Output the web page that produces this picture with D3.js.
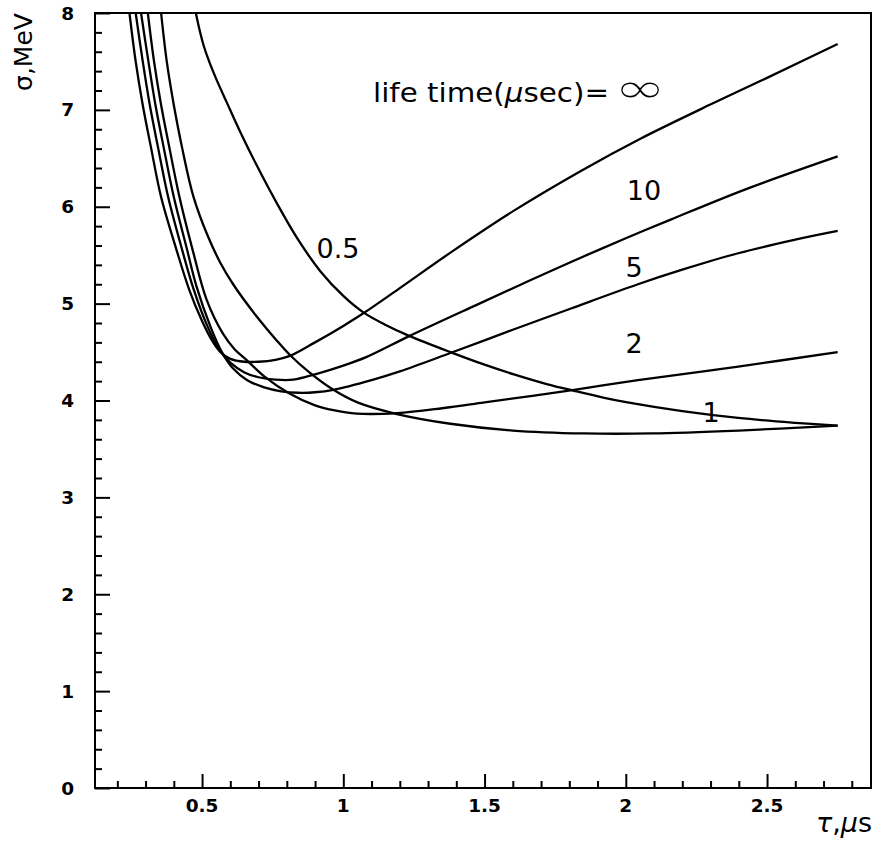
<!DOCTYPE html>
<html>
<head>
<meta charset="utf-8">
<script src="https://cdn.jsdelivr.net/npm/d3@7"></script>
<style>
  html, body { margin: 0; padding: 0; background: #fff; }
  svg { display: block; }
  text { fill: #000; }
</style>
</head>
<body>
<svg id="chart" width="884" height="852"></svg>
<script>
// Energy resolution sigma (MeV) versus shaping time tau (us)
// for several electron life times (us).

const lifeTimes = ["∞", "10", "5", "2", "1", "0.5"];

const tauInf   = [0.243, 0.265, 0.29, 0.32, 0.355, 0.41, 0.455, 0.50, 0.535, 0.565, 0.60, 0.65, 0.70, 0.76, 0.811, 0.90, 1.0, 1.071, 1.2, 1.391, 1.604, 1.841, 2.05, 2.303, 2.5, 2.75];
const sigmaInf = [8.0, 7.5, 7.05, 6.6, 6.1, 5.55, 5.14, 4.82, 4.62, 4.50, 4.43, 4.40, 4.40, 4.42, 4.46, 4.60, 4.77, 4.90, 5.16, 5.55, 5.96, 6.37, 6.70, 7.06, 7.33, 7.68];

const tau10    = [0.265, 0.29, 0.315, 0.345, 0.38, 0.43, 0.47, 0.52, 0.56, 0.60, 0.65, 0.70, 0.76, 0.823, 0.90, 1.0, 1.083, 1.237, 1.474, 1.65, 1.806, 2.0, 2.161, 2.433, 2.75];
const sigma10  = [8.0, 7.5, 7.05, 6.6, 6.1, 5.55, 5.15, 4.76, 4.53, 4.39, 4.29, 4.24, 4.215, 4.215, 4.27, 4.36, 4.45, 4.67, 4.99, 5.225, 5.43, 5.675, 5.87, 6.19, 6.52];

const tau5     = [0.284, 0.31, 0.335, 0.365, 0.40, 0.445, 0.48, 0.53, 0.57, 0.61, 0.66, 0.72, 0.78, 0.84, 0.90, 0.965, 1.1, 1.2, 1.379, 1.60, 1.806, 2.043, 2.2, 2.398, 2.6, 2.75];
const sigma5   = [8.0, 7.5, 7.05, 6.6, 6.1, 5.58, 5.18, 4.76, 4.50, 4.33, 4.21, 4.135, 4.095, 4.08, 4.085, 4.11, 4.21, 4.30, 4.49, 4.73, 4.95, 5.20, 5.35, 5.52, 5.66, 5.75];

const tau2     = [0.308, 0.33, 0.355, 0.385, 0.42, 0.467, 0.515, 0.574, 0.615, 0.657, 0.72, 0.811, 0.90, 0.965, 1.048, 1.19, 1.35, 1.50, 1.817, 2.043, 2.398, 2.75];
const sigma2   = [8.0, 7.5, 7.05, 6.6, 6.1, 5.55, 5.05, 4.69, 4.53, 4.42, 4.25, 4.07, 3.95, 3.90, 3.865, 3.87, 3.92, 3.98, 4.11, 4.21, 4.35, 4.50];

const tau1     = [0.355, 0.375, 0.40, 0.43, 0.47, 0.52, 0.565, 0.61, 0.69, 0.764, 0.811, 0.88, 0.965, 1.05, 1.19, 1.379, 1.60, 1.852, 2.09, 2.40, 2.75];
const sigma1   = [8.0, 7.5, 7.05, 6.6, 6.1, 5.7, 5.42, 5.2, 4.88, 4.62, 4.47, 4.29, 4.11, 3.98, 3.86, 3.76, 3.69, 3.66, 3.66, 3.69, 3.74];

const tau05    = [0.478, 0.49, 0.505, 0.525, 0.55, 0.587, 0.634, 0.693, 0.764, 0.84, 0.92, 1.0, 1.071, 1.15, 1.231, 1.379, 1.50, 1.604, 1.72, 1.817, 1.92, 2.006, 2.2, 2.398, 2.6, 2.75];
const sigma05  = [8.0, 7.84, 7.67, 7.5, 7.32, 7.08, 6.78, 6.43, 6.04, 5.66, 5.33, 5.08, 4.91, 4.78, 4.67, 4.50, 4.37, 4.27, 4.17, 4.10, 4.03, 3.98, 3.89, 3.82, 3.77, 3.74];

const xMajorTicks = [0.5, 1, 1.5, 2, 2.5];
const xTickLabels = ["0.5", "1", "1.5", "2", "2.5"];
const yMajorTicks = [0, 1, 2, 3, 4, 5, 6, 7, 8];
const yTickLabels = ["0", "1", "2", "3", "4", "5", "6", "7", "8"];

const seriesTau   = [tauInf, tau10, tau5, tau2, tau1, tau05];
const seriesSigma = [sigmaInf, sigma10, sigma5, sigma2, sigma1, sigma05];

const svg = d3.select("#chart");
const frame = { left: 95, right: 871, top: 13, bottom: 788 };

const x = d3.scaleLinear().domain([0.121, 2.868]).range([frame.left, frame.right]);
const y = d3.scaleLinear().domain([0, 8]).range([frame.bottom, frame.top]);

const FONT = "'DejaVu Sans', Verdana, sans-serif";

// clip region for the curves
svg.append("defs").append("clipPath").attr("id", "plotClip")
  .append("rect")
  .attr("x", frame.left).attr("y", frame.top)
  .attr("width", frame.right - frame.left).attr("height", frame.bottom - frame.top);

// curves
const line = d3.line()
  .x(d => x(d[0]))
  .y(d => y(d[1]))
  .curve(d3.curveCatmullRom.alpha(0.5));

const curves = svg.append("g").attr("clip-path", "url(#plotClip)");
seriesTau.forEach((taus, i) => {
  const pts = taus.map((t, k) => [t, seriesSigma[i][k]]);
  curves.append("path")
    .datum(pts)
    .attr("d", line)
    .attr("fill", "none")
    .attr("stroke", "#000")
    .attr("stroke-width", 2.3)
    .attr("stroke-linejoin", "round");
});

// x axis (ticks pointing into the frame)
const xMinor = d3.range(2, 29).map(v => v / 10).filter(v => !xMajorTicks.some(m => Math.abs(m - v) < 1e-6));
const xAxis = d3.axisTop(x).tickValues(xMajorTicks).tickSize(14).tickFormat("");
const xAxisMinor = d3.axisTop(x).tickValues(xMinor).tickSize(7).tickFormat("");
[xAxis, xAxisMinor].forEach(ax => {
  const g = svg.append("g").attr("transform", `translate(0,${frame.bottom})`).call(ax);
  g.select(".domain").remove();
  g.selectAll("line").attr("stroke", "#000").attr("stroke-width", 2);
});
svg.append("g").selectAll("text")
  .data(xMajorTicks)
  .join("text")
  .attr("x", d => x(d))
  .attr("y", 812)
  .attr("text-anchor", "middle")
  .attr("font-family", FONT)
  .attr("font-weight", "bold")
  .attr("font-size", 18.5)
  .text((d, i) => xTickLabels[i]);

// y axis (ticks pointing into the frame)
const yMinor = d3.range(0, 41).map(v => v / 5).filter(v => !yMajorTicks.some(m => Math.abs(m - v) < 1e-6));
const yAxis = d3.axisRight(y).tickValues(yMajorTicks).tickSize(15).tickFormat("");
const yAxisMinor = d3.axisRight(y).tickValues(yMinor).tickSize(7).tickFormat("");
[yAxis, yAxisMinor].forEach(ax => {
  const g = svg.append("g").attr("transform", `translate(${frame.left},0)`).call(ax);
  g.select(".domain").remove();
  g.selectAll("line").attr("stroke", "#000").attr("stroke-width", 2);
});
svg.append("g").selectAll("text")
  .data(yMajorTicks)
  .join("text")
  .attr("x", 74)
  .attr("y", d => y(d) + 6.5)
  .attr("text-anchor", "end")
  .attr("font-family", FONT)
  .attr("font-weight", "bold")
  .attr("font-size", 18.5)
  .text((d, i) => yTickLabels[i]);

// frame
svg.append("rect")
  .attr("x", frame.left).attr("y", frame.top)
  .attr("width", frame.right - frame.left).attr("height", frame.bottom - frame.top)
  .attr("fill", "none").attr("stroke", "#000").attr("stroke-width", 2);

// axis titles
svg.append("text")
  .attr("transform", "translate(32,52) rotate(-90)")
  .attr("text-anchor", "middle")
  .attr("font-family", FONT)
  .attr("font-size", 25)
  .text("σ,MeV");

const xt = svg.append("text")
  .attr("x", 872).attr("y", 832)
  .attr("text-anchor", "end")
  .attr("font-family", FONT)
  .attr("font-size", 27);
xt.append("tspan").attr("font-style", "italic").text("τ");
xt.append("tspan").text(",");
xt.append("tspan").attr("font-style", "italic").text("μ");
xt.append("tspan").text("s");

// legend heading
const head = svg.append("text")
  .attr("x", 373).attr("y", 102)
  .attr("font-family", FONT)
  .attr("font-size", 27)
  .attr("textLength", 236)
  .attr("lengthAdjust", "spacingAndGlyphs");
head.append("tspan").text("life time(");
head.append("tspan").attr("font-style", "italic").text("μ");
head.append("tspan").text("sec)=");

svg.append("text")
  .attr("transform", "translate(640,103) scale(1.45,1)")
  .attr("text-anchor", "middle")
  .attr("font-family", FONT)
  .attr("font-size", 44)
  .attr("stroke", "#fff")
  .attr("stroke-width", 1.2)
  .text(lifeTimes[0]);

// curve labels
const curveLabels = [
  { text: lifeTimes[1], x: 644, y: 200 },
  { text: lifeTimes[2], x: 634, y: 277 },
  { text: lifeTimes[3], x: 634, y: 353 },
  { text: lifeTimes[4], x: 711, y: 422 },
  { text: lifeTimes[5], x: 338, y: 258 }
];
svg.append("g").selectAll("text")
  .data(curveLabels)
  .join("text")
  .attr("x", d => d.x)
  .attr("y", d => d.y)
  .attr("text-anchor", "middle")
  .attr("font-family", FONT)
  .attr("font-size", 27)
  .text(d => d.text);
</script>
</body>
</html>
